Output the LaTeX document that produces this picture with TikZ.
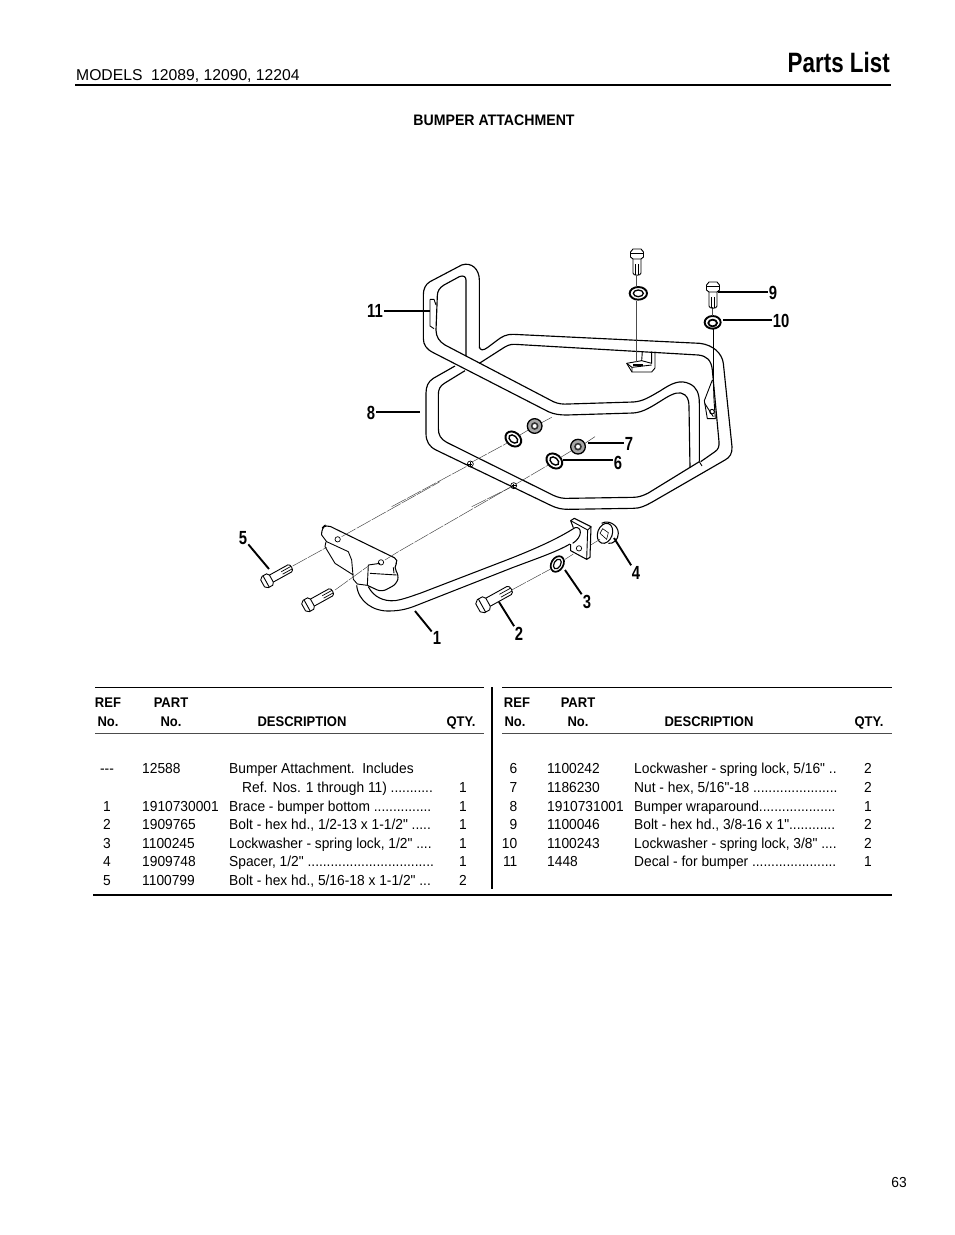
\documentclass[tikz,border=0pt]{standalone}
\usepackage{fontspec}
\setmainfont{Liberation Sans}
\newfontfamily\tfont[FakeStretch=0.95]{Liberation Sans}
\newfontfamily\hfont[FakeStretch=0.93]{Liberation Sans}
\newfontfamily\lfont[FakeStretch=0.78]{Liberation Sans}
\newfontfamily\pfont[FakeStretch=0.8]{Liberation Sans}
\usetikzlibrary{calc}
\newcommand{\boltshape}[1]{%
  \draw[part,fill=white] (-5,-4)--(-2,-6.5)--(3,-6.5)--(5,-4)--(5,4)--(3,6.5)--(-2,6.5)--(-5,4)--cycle;
  \draw[part] (-1,-6.5)--(-1,6.5);
  \draw[part] (5,-4)--(#1-3,-4) .. controls (#1,-4) and (#1,4) .. (#1-3,4) -- (5,4);
  \draw[line width=.7pt] (#1-12,-1.2)--(#1-1,-1.2) (#1-12,1.6)--(#1-1,1.6);
}
\tikzset{
  cell/.style={inner sep=0pt,text height=10.5pt,text depth=0pt,font=\tfont\fontsize{14.5}{16}\selectfont},
  head/.style={inner sep=0pt,text height=10.5pt,text depth=0pt,font=\hfont\bfseries\fontsize{14}{16}\selectfont},
  lab/.style={inner sep=1pt,font=\lfont\bfseries\fontsize{19}{20}\selectfont},
  leader/.style={line width=1.9pt,black},
  tube/.style={line width=1.15pt,line join=round},
  rtube/.style={tube,rounded corners=10pt},
  part/.style={line width=.9pt,line join=round},
  axis/.style={line width=.45pt,black!75,dash pattern=on 16pt off 1.2pt},
  rule/.style={line width=1pt},
  heavy/.style={line width=2.2pt},
  zoomA/.style={shift={(350,230)},x=.33333pt,y=-.33333pt},
  zoomB/.style={shift={(220,480)},x=.33333pt,y=-.33333pt},
  shortbolt/.pic={\boltshape{22}},
  longbolt/.pic={\boltshape{29}}
}
\newcommand{\lrow}[6]{%
  \node[cell,anchor=center] (#1r) at (107,#2) {#3};
  \node[cell,anchor=west] (#1p) at (142,#2) {#4};
  \node[cell,anchor=west] (#1d) at (229,#2) {#5};
  \node[cell,anchor=center] (#1q) at (463,#2) {#6};
}
\newcommand{\rrow}[6]{%
  \node[cell,anchor=east] (#1r) at (517.5,#2) {#3};
  \node[cell,anchor=west] (#1p) at (547,#2) {#4};
  \node[cell,anchor=west] (#1d) at (634,#2) {#5};
  \node[cell,anchor=center] (#1q) at (868,#2) {#6};
}
\begin{document}
\begin{tikzpicture}[x=1pt,y=-1pt]
\useasboundingbox (0,0) rectangle (954,1235);
\fill[white] (0,0) rectangle (954,1235);

% ---------- page header
\node[inner sep=0pt,anchor=base west,font=\fontsize{15.7}{17}\selectfont] (models) at (76,80) {MODELS\ \ 12089, 12090, 12204};
\node[inner sep=0pt,anchor=base east,font=\pfont\bfseries\fontsize{28}{30}\selectfont] (plist) at (890,72) {Parts List};
\coordinate (hrA) at (75,85); \coordinate (hrB) at (891,85);
\draw[heavy] (hrA) -- (hrB);
\node[head,font=\hfont\bfseries\fontsize{15.2}{17}\selectfont] (title) at (494,120) {BUMPER ATTACHMENT};

% ---------- upper tubes
\begin{scope}[zoomA]
  \draw[tube] (388,355)--(388,150) .. controls (388,118) and (365,95) .. (335,105) -- (240,155) .. controls (226,163) and (220,178) .. (220,195) -- (220,325) .. controls (220,345) and (230,358) .. (250,368) -- (595,545) .. controls (612,553) and (630,555) .. (650,555) -- (850,549) .. controls (880,547) and (905,530) .. (945,505) .. controls (970,490) and (990,482) .. (1005,495) .. controls (1014,502) and (1017,515) .. (1017,530) -- (1020,712);
  \draw[tube] (348,380)--(348,150) .. controls (348,140) and (340,135) .. (328,140) -- (282,165) .. controls (268,173) and (262,185) .. (262,197) -- (258,300) .. controls (258,320) and (268,335) .. (285,345) -- (610,515) .. controls (625,522) and (640,523) .. (655,522) -- (850,516) .. controls (880,514) and (900,500) .. (930,483) .. controls (965,460) and (990,447) .. (1020,462) .. controls (1040,472) and (1048,490) .. (1048,520) -- (1048,695);
  \draw[tube] (315,408)--(250,445) .. controls (234,455) and (228,470) .. (228,490) -- (228,610) .. controls (228,635) and (238,650) .. (258,660) -- (600,825) .. controls (620,835) and (635,838) .. (655,838) -- (850,835) .. controls (870,835) and (885,828) .. (905,817) -- (1125,690) .. controls (1140,682) and (1147,670) .. (1146,650) -- (1120,400) .. controls (1116,370) and (1090,345) .. (1050,340) -- (490,313) .. controls (470,312) and (455,320) .. (440,332) -- (412,353) .. controls (400,362) and (390,362) .. (388,350);
  \draw[tube] (345,422)--(283,460) .. controls (270,468) and (265,478) .. (265,495) -- (265,595) .. controls (265,615) and (272,627) .. (290,637) -- (610,796) .. controls (625,803) and (640,806) .. (655,805) -- (850,802) .. controls (865,802) and (880,797) .. (895,789) -- (1048,695);
  \draw[tube] (1052,695)--(1095,665) .. controls (1105,658) and (1108,650) .. (1107,635) -- (1087,420) .. controls (1084,390) and (1070,378) .. (1045,375) -- (495,343) .. controls (480,342) and (470,347) .. (455,357) -- (388,400);
  \draw[part] (1048,695)--(1056,708);
  % decal
  \draw[part] (240,208)--(252,208)--(258,225) (240,208)--(240,288)--(252,296);
  % rear bracket
  \draw[part] (830,400)--(846,426)--(905,426)--(915,414)--(915,365);
  \draw[part] (830,400)--(875,392)--(877,365);
  \draw[part] (875,392)--(905,400)--(905,365);
  \draw[part] (846,426)--(846,412)--(830,400) (846,412)--(905,405);
  \draw[line width=1.3pt] (850,405)--(880,405);
  % right bracket
  \draw[part] (1087,450)--(1063,512)--(1072,566)--(1096,566)--(1092,510)--(1090,450);
  \draw[part] (1064,520)--(1090,560);
  \draw[part] (1086,545) circle[radius=7];
  % washers (upper)
  \draw[line width=1.9pt] (865,190) ellipse[x radius=26,y radius=19];
  \draw[line width=1.3pt] (865,190) ellipse[x radius=15,y radius=10];
  \draw[line width=1.9pt] (1088,277) ellipse[x radius=24,y radius=19];
  \draw[line width=1.8pt] (1088,279) ellipse[x radius=13,y radius=10];
  % axes (upper)
  \draw[line width=.5pt,black!70] (860,138)--(860,170) (860,212)--(860,395);
  \draw[line width=.5pt,black!70] (1088,232)--(1088,258);
  \draw[line width=.9pt] (1090,298)--(1090,450);
  \draw[axis] (125,830)--(352,708);
  \draw[axis] (368,695)--(470,640) (510,615)--(535,600) (575,578)--(605,562);
  \draw[axis] (365,830)--(482,772);
  \draw[axis] (498,762)--(595,705) (632,682)--(665,662) (705,640)--(735,620);
  % holes
  \draw[line width=.7pt] (361,702) circle[radius=9] (491,767) circle[radius=9];
  \draw[line width=.4pt] (355,702)--(367,702) (361,696)--(361,708) (485,767)--(497,767) (491,761)--(491,773);
  % washers and nuts (front)
  \foreach \cx/\cy in {490/627,613/693}{
    \draw[line width=1.9pt,rotate around={-40:(\cx,\cy)}] (\cx,\cy) ellipse[x radius=26,y radius=20];
    \draw[line width=1.4pt,rotate around={-40:(\cx,\cy)}] (\cx,\cy) ellipse[x radius=15,y radius=10];
  }
  \foreach \cx/\cy in {554/588,684/650}{
    \fill[black!35] (\cx,\cy) circle[radius=21];
    \draw[line width=1.3pt] (\cx,\cy) circle[radius=22];
    \fill[white] (\cx,\cy) circle[radius=9];
    \draw[line width=1.6pt,black!80] (\cx,\cy) circle[radius=9];
  }
\end{scope}

% ---------- lower brace
\begin{scope}[zoomB]
  \draw[part,line width=1.05pt,rounded corners=5pt] (305,165)--(305,145)--(318,133)--(537,240)--(520,262)--(537,285)--(530,312)--(485,336)--(442,316);
  \draw[part] (305,165)--(320,185)--(385,215)--(395,240)--(400,298)--(412,312)--(442,316);
  \draw[part] (318,185)--(315,200)--(345,250)--(400,285);
  \draw[part] (445,255)--(480,250) (445,255)--(442,316) (450,280)--(530,285) (520,262)--(522,280);
  \draw[line width=.7pt] (353,178) circle[radius=8] (483,247) circle[radius=8];
  \draw[tube,line width=1.05pt] (410,316) .. controls (415,365) and (460,395) .. (510,393) .. controls (540,392) and (560,388) .. (590,376) -- (880,262) .. controls (960,232) and (1010,215) .. (1050,192);
  \draw[tube,line width=1.05pt] (445,320) .. controls (460,350) and (490,365) .. (525,362) .. controls (550,358) and (570,350) .. (600,340) -- (860,240) .. controls (950,205) and (1015,175) .. (1065,143);
  \draw[line width=1.05pt] (1065,143) .. controls (1085,138) and (1090,170) .. (1058,190);
  % rear plate
  \draw[part,line width=1.05pt] (1060,143)--(1052,122)--(1063,115)--(1113,140)--(1110,232)--(1100,238)--(1052,212)--(1052,192);
  \draw[part] (1052,122)--(1103,150)--(1100,238) (1103,150)--(1113,140);
  \draw[line width=.7pt] (1077,205) circle[radius=8];
  % spacer
  \draw[part,line width=1.05pt,rotate around={-20:(1155,160)}] (1155,160) ellipse[x radius=22,y radius=31];
  \draw[part,line width=1.05pt] (1145,130) .. controls (1165,118) and (1195,135) .. (1195,160) .. controls (1195,180) and (1180,192) .. (1165,190);
  \draw[line width=.6pt] (1140,160)--(1148,146)--(1165,158)--(1160,178)--(1140,160);
  % washer
  \draw[line width=1.7pt,rotate around={-30:(1012,252)}] (1012,252) ellipse[x radius=18,y radius=25];
  \draw[line width=1.2pt,rotate around={-30:(1012,252)}] (1012,252) ellipse[x radius=10,y radius=16];
  % axes
  \draw[axis] (218,258)--(320,202) (365,170)--(660,5);
  \draw[axis] (345,330)--(445,258) (495,240)--(535,215)--(870,22);
  \draw[axis] (875,330)--(990,268);
  \draw[axis] (1035,238)--(1060,222);
  \draw[axis] (1112,195)--(1140,178);
\end{scope}

% ---------- bolts
\pic[rotate=-90] at (637,254) {shortbolt};
\pic[rotate=-90] at (713,287) {shortbolt};
\pic[rotate=29] at (267,581) {longbolt};
\pic[rotate=29] at (308,605) {longbolt};
\pic[rotate=29,scale=1.15] at (483,605) {longbolt};

% ---------- callouts
\node[lab] (l11) at (375,311) {11};
\node[lab] (l8) at (371,413) {8};
\node[lab] (l9) at (773,293) {9};
\node[lab] (l10) at (781,321) {10};
\node[lab] (l7) at (629,444) {7};
\node[lab] (l6) at (618,463) {6};
\node[lab] (l5) at (243,538) {5};
\node[lab] (l4) at (636,573) {4};
\node[lab] (l3) at (587,602) {3};
\node[lab] (l2) at (519,634) {2};
\node[lab] (l1) at (437,638) {1};
\coordinate (c11) at (430,311);
\coordinate (c8) at (420,412);
\coordinate (c9) at (718,292);
\coordinate (c10) at (723,320);
\coordinate (c7) at (588,443);
\coordinate (c6) at (563,460);
\coordinate (c5) at (269,569);
\coordinate (c4) at (614,538);
\coordinate (c3) at (565,570);
\coordinate (c2) at (499,602);
\coordinate (c1) at (415,611);
\draw[leader] (c11 -| l11.east) -- (c11);
\draw[leader] (c8 -| l8.east) -- (c8);
\draw[leader] (c9 -| l9.west) -- (c9);
\draw[leader] (c10 -| l10.west) -- (c10);
\draw[leader] (c7 -| l7.west) -- (c7);
\draw[leader] (c6 -| l6.west) -- (c6);
\draw[leader] (l5) -- (c5);
\draw[leader] (l4) -- (c4);
\draw[leader] (l3) -- (c3);
\draw[leader] (l2) -- (c2);
\draw[leader] (l1) -- (c1);

% ---------- table rules
\coordinate (tla) at (95,687); \coordinate (tlb) at (484,687);
\coordinate (tra) at (502,687); \coordinate (trb) at (892,687);
\coordinate (mla) at (95,733); \coordinate (mlb) at (484,733);
\coordinate (mra) at (502,733); \coordinate (mrb) at (892,733);
\coordinate (va) at (492,687); \coordinate (vb) at (492,889);
\coordinate (ba) at (93,895); \coordinate (bb) at (892,895);
\draw[rule] (tla) -- (tlb);
\draw[rule] (tra) -- (trb);
\draw[rule,black!70] (mla) -- (mlb);
\draw[rule,black!70] (mra) -- (mrb);
\draw[line width=2.6pt] (va) -- (vb);
\draw[heavy] (ba) -- (bb);

% ---------- table headers
\node[head] (h1) at (108,702) {REF};
\node[head] (h2) at (108,721) {No.};
\node[head] (h3) at (171,702) {PART};
\node[head] (h4) at (171,721) {No.};
\node[head] (h5) at (302,721) {DESCRIPTION};
\node[head] (h6) at (461,721) {QTY.};
\node[head] (h7) at (517,702) {REF};
\node[head] (h8) at (515,721) {No.};
\node[head] (h9) at (578,702) {PART};
\node[head] (h10) at (578,721) {No.};
\node[head] (h11) at (709,721) {DESCRIPTION};
\node[head] (h12) at (869,721) {QTY.};

% ---------- table rows, left
\lrow{a}{768}{---}{12588}{Bumper Attachment.\ \ Includes}{}
\node[cell,anchor=west] (bd) at (242,787) {Ref. Nos. 1 through 11) ...........};
\node[cell] (bq) at (463,787) {1};
\lrow{c}{806}{1}{1910730001}{Brace - bumper bottom ...............}{1}
\lrow{e}{824}{2}{1909765}{Bolt - hex hd., 1/2-13 x 1-1/2" .....}{1}
\lrow{f}{843}{3}{1100245}{Lockwasher - spring lock, 1/2" ....}{1}
\lrow{g}{861}{4}{1909748}{Spacer, 1/2" .................................}{1}
\lrow{h}{880}{5}{1100799}{Bolt - hex hd., 5/16-18 x 1-1/2" ...}{2}

% ---------- table rows, right
\rrow{i}{768}{6}{1100242}{Lockwasher - spring lock, 5/16" ..}{2}
\rrow{j}{787}{7}{1186230}{Nut - hex, 5/16"-18 ......................}{2}
\rrow{k}{806}{8}{1910731001}{Bumper wraparound....................}{1}
\rrow{m}{824}{9}{1100046}{Bolt - hex hd., 3/8-16 x 1"............}{2}
\rrow{n}{843}{10}{1100243}{Lockwasher - spring lock, 3/8" ....}{2}
\rrow{o}{861}{11}{1448}{Decal - for bumper ......................}{1}

\node[cell] (page) at (899,1182) {63};
\end{tikzpicture}
\end{document}
